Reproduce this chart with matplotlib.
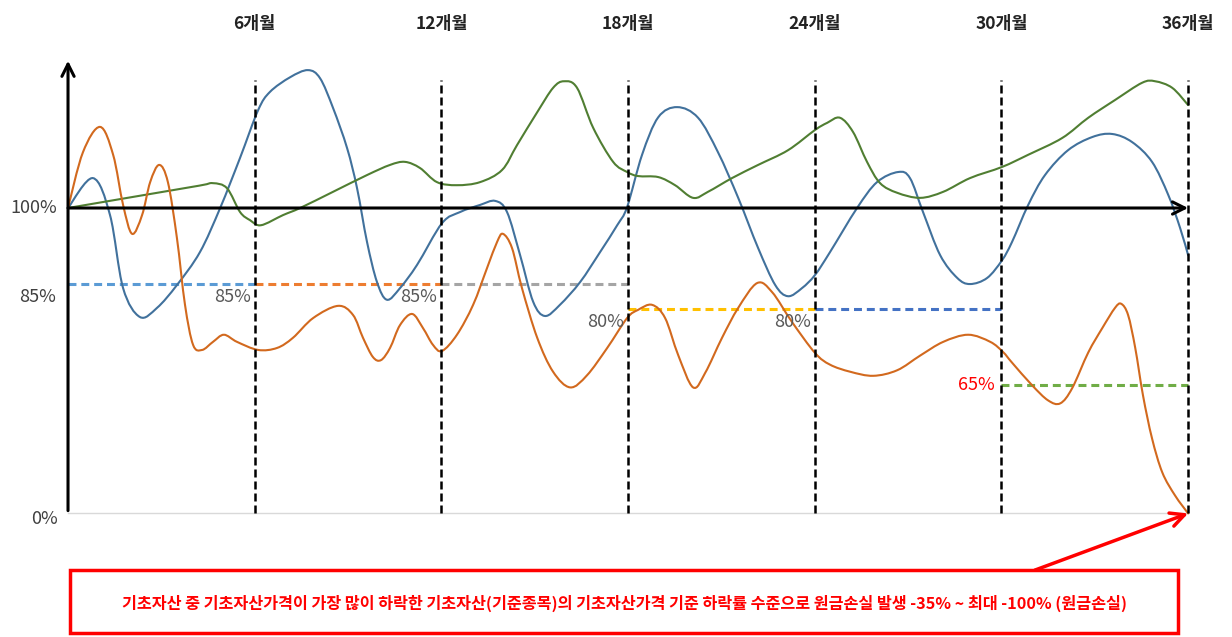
import numpy as np
import matplotlib.pyplot as plt
from matplotlib.patches import Rectangle, PathPatch
from matplotlib.path import Path

plt.rcParams['font.family'] = ['Noto Sans CJK KR', 'DejaVu Sans']

# Data (month, % of initial price)
blue_m = [0, 0.80, 1.35, 1.77, 2.31, 2.86, 3.50, 4.24, 4.89, 5.53, 6.11, 6.49, 7.14, 7.71,
          8.10, 8.52, 8.97, 9.29, 9.61, 9.93, 10.25, 10.67, 11.22, 12.02, 12.60, 13.24,
          13.73, 14.11, 14.53, 14.95, 15.33, 15.81, 16.46, 17.10, 17.65, 17.97, 18.45,
          18.97, 19.58, 20.25, 20.89, 21.54, 22.18, 22.73, 23.14, 23.59, 24.01, 24.49,
          25.36, 26.00, 26.68, 27.06, 27.48, 28.03, 28.58, 28.99, 29.54, 30.02, 30.34,
          30.86, 31.40, 32.14, 32.92, 33.56, 34.20, 34.84, 35.36, 35.74, 36.0]
blue_v = [100, 105.9, 98.6, 84.2, 78.5, 80.3, 84.8, 91.3, 100, 109.9, 119.3, 122.9, 125.8, 127.2,
          125.6, 119.7, 111.8, 103.9, 93.3, 85.4, 81.9, 84.2, 88.8, 97.0, 99.2, 100.6,
          101.4, 99.2, 90.7, 81.5, 78.7, 80.9, 85.4, 91.3, 96.6, 100.2, 110.5,
          117.9, 119.9, 117.8, 111.0, 102.0, 92.1, 84.8, 82.6, 84.2, 86.8, 91.3,
          100, 105.1, 107.1, 105.9, 99.2, 90.7, 86.2, 85.0, 86.2, 89.7, 93.3,
          100.6, 106.5, 111.4, 114.0, 114.6, 113.0, 109.1, 102.6, 96.1, 90.7]

green_m = [0, 2.10, 4.21, 4.66, 5.11, 5.53, 5.85, 6.2, 6.91, 7.46, 8.52, 9.61, 10.35, 10.83, 11.31,
           11.86, 12.50, 13.24, 13.95, 14.43, 15.08, 15.59, 15.94, 16.36, 16.88, 17.52, 17.97,
           18.32, 18.97, 19.51, 20.09, 20.57, 21.34, 22.18, 23.14, 24.01, 24.40, 24.81,
           25.23, 25.68, 26.10, 26.65, 27.39, 28.13, 28.99, 30.02, 30.86, 31.95, 32.79,
           33.65, 34.52, 34.94, 35.49, 36.0]
green_v = [100, 102.2, 104.4, 104.9, 103.9, 99.2, 97.6, 96.6, 98.6, 100, 103.2, 106.5, 108.5, 109.1,
           107.9, 105.1, 104.5, 105.1, 107.5, 112.4, 118.9, 123.7, 125.0, 123.7, 115.8, 109.1,
           107.1, 106.3, 106.1, 104.5, 102.0, 103.2, 105.9, 108.5, 111.4, 115.4, 116.8, 117.8,
           115.0, 109.1, 104.9, 103.0, 102.0, 103.2, 105.9, 108.1, 110.5, 113.8, 117.8,
           121.3, 124.7, 125.0, 123.7, 120.3]

orange_m = [0, 0.48, 1.03, 1.45, 1.77, 2.06, 2.38, 2.64, 2.93, 3.21, 3.50, 3.76, 4.02, 4.31,
            4.66, 5.01, 5.43, 6.11, 6.72, 7.23, 7.88, 8.68, 9.16, 9.48, 9.80, 10.06, 10.35,
            10.67, 11.06, 11.41, 11.73, 12.02, 12.50, 13.02, 13.47, 13.79, 13.98, 14.27,
            14.59, 15.08, 15.59, 16.14, 16.68, 17.33, 17.97, 18.32, 18.77, 19.19, 19.61,
            20.09, 20.48, 21.02, 21.54, 22.15, 22.63, 23.27, 24.01, 24.49, 25.14, 25.88,
            26.65, 27.39, 28.13, 28.93, 29.64, 30.05, 30.34, 30.99, 31.50, 31.89, 32.27,
            32.79, 33.24, 33.65, 33.85, 34.07, 34.30, 34.55, 34.84, 35.17, 35.58, 36.0]
orange_v = [100, 111.0, 116.0, 110.5, 100.6, 94.9, 98.6, 105.1, 108.5, 105.1, 94.1, 80.9, 73.0, 72.0,
            73.6, 75.0, 73.6, 72.0, 72.4, 74.4, 78.3, 80.7, 78.9, 74.4, 70.6, 70.0, 72.4,
            76.9, 79.1, 76.3, 73.0, 71.8, 75.0, 80.9, 88.2, 93.3, 94.9, 92.1,
            84.2, 74.4, 67.7, 64.0, 67.0, 72.4, 78.3, 79.9, 80.9, 78.3, 71.0,
            64.0, 67.5, 74.4, 80.3, 85.2, 83.4, 77.5, 71.4, 69.1, 67.7, 66.9,
            68.0, 70.9, 73.6, 75.0, 73.6, 71.6, 69.5, 65.0, 57.4, 55.9, 63.5,
            71.5, 76.3, 80.3, 81.1, 78.9, 72.4, 59.9, 38.1, 20.8, 9.1, 0]

period_start = [0, 6, 12, 18, 24, 30]
period_end = [6, 12, 18, 24, 30, 36]
barrier = [85, 85, 85, 80, 80, 65]
barrier_labels = ['85%', '85%', '85%', '80%', '80%', '65%']
barrier_colors = ['#5B9BD5', '#ED7D31', '#A5A5A5', '#FFC000', '#4472C4', '#70AD47']
month_labels = ['6개월', '12개월', '18개월', '24개월', '30개월', '36개월']
note = '기초자산 중 기초자산가격이 가장 많이 하락한 기초자산(기준종목)의 기초자산가격 기준 하락률 수준으로 원금손실 발생 -35% ~ 최대 -100% (원금손실)'

# y axis is squeezed below 65% (broken axis look)
K = 0.3884


def fwd(v):
    v = np.asarray(v, dtype=float)
    return np.where(v >= 65, v, 65 - (65 - v) * K)


def inv(u):
    u = np.asarray(u, dtype=float)
    return np.where(u >= 65, u, 65 - (65 - u) / K)


def smooth_path(xs, ys, t=1 / 6):
    # excel-like smoothed line: bezier segments through the read points
    x = np.asarray(xs, dtype=float)
    u = fwd(ys)
    n = len(x)
    verts = [(x[0], u[0])]
    codes = [Path.MOVETO]
    for i in range(n - 1):
        a = max(i - 1, 0)
        b = min(i + 2, n - 1)
        verts.append((x[i] + (x[i + 1] - x[a]) * t, u[i] + (u[i + 1] - u[a]) * t))
        verts.append((x[i + 1] - (x[b] - x[i]) * t, u[i + 1] - (u[b] - u[i]) * t))
        verts.append((x[i + 1], u[i + 1]))
        codes += [Path.CURVE4] * 3
    verts = np.array(verts)
    verts[:, 1] = inv(verts[:, 1])
    return Path(verts, codes)


fig = plt.figure(figsize=(12.32, 6.37), dpi=100)
ax = fig.add_axes([0, 0, 1, 1])
ax.set_yscale('function', functions=(fwd, inv))
ax.set_xlim(-2.186, 37.41)
ax.set_ylim(-62.76, 141.03)
ax.axis('off')

# curves
for xs, ys, c in [(blue_m, blue_v, '#41719C'), (green_m, green_v, '#507E32'),
                  (orange_m, orange_v, '#D2691E')]:
    ax.add_patch(PathPatch(smooth_path(xs, ys), fill=False, edgecolor=c, lw=1.5,
                           capstyle='round', joinstyle='round', zorder=3))

# barrier levels
for s, e, b, c, lab in zip(period_start, period_end, barrier, barrier_colors, barrier_labels):
    ax.plot([s, e], [b, b], color=c, lw=2.2, dashes=(2.6, 1.6), zorder=2)
    if s == 0:
        ax.annotate(lab, (s, b), xytext=(-9, -9), textcoords='offset points',
                    ha='right', va='center', fontsize=13, color='#404040')
    elif lab == '65%':
        ax.annotate(lab, (s, b), xytext=(-5, 0), textcoords='offset points',
                    ha='right', va='center', fontsize=13, color='#FF0000')
    else:
        ax.annotate(lab, (s, b), xytext=(-3, -9), textcoords='offset points',
                    ha='right', va='center', fontsize=13, color='#595959')

# observation dates
ax.vlines(period_end, 0, 125.2, colors='black', lw=1.8, linestyles=(0, (3.2, 1.6)), zorder=4)
for m, lab in zip(period_end, month_labels):
    ax.text(m, 136.3, lab, ha='center', va='center', fontsize=12.5, fontweight='bold',
            color='#222222')

# axes
ax.plot([0, 36], [0, 0], color='#D9D9D9', lw=1, zorder=1)
ax.annotate('', xy=(0, 129.6), xytext=(0, 0),
            arrowprops=dict(arrowstyle='->', lw=2.2, color='black', mutation_scale=22), zorder=5)
ax.annotate('', xy=(36, 100), xytext=(0, 100),
            arrowprops=dict(arrowstyle='->', lw=2.2, color='black', mutation_scale=22,
                            shrinkA=0, shrinkB=0), zorder=5)
ax.annotate('100%', (0, 100), xytext=(-8, 0), textcoords='offset points',
            ha='right', va='center', fontsize=13, color='#404040')
ax.annotate('0%', (0, 0), xytext=(-7, -4), textcoords='offset points',
            ha='right', va='center', fontsize=13, color='#404040')

# note box and arrow
fig.patches.append(Rectangle((0.0568, 0.006), 0.899, 0.099, transform=fig.transFigure,
                             fill=False, edgecolor='#FF0000', lw=2.5))
fig.text(0.507, 0.052, note, ha='center', va='center', fontsize=11.7, fontweight='bold',
         color='#FF0000')
ax.annotate('', xy=(36, 0), xycoords='data', xytext=(0.840, 0.105), textcoords='figure fraction',
            arrowprops=dict(arrowstyle='->', lw=2.5, color='#FF0000', mutation_scale=25,
                            shrinkA=0, shrinkB=0))

fig.savefig('out.png', dpi=100)
